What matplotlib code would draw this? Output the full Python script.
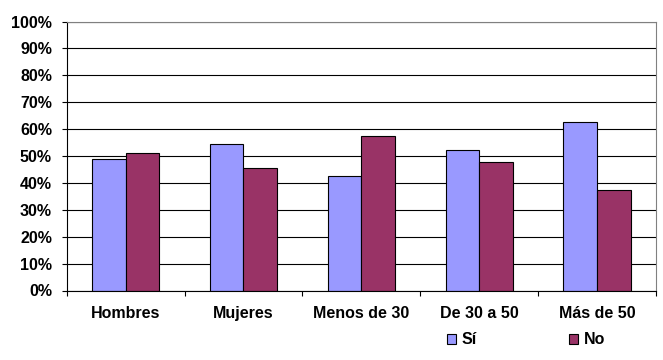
import matplotlib

matplotlib.use("Agg")
import matplotlib.pyplot as plt
import numpy as np

categories = ["Hombres", "Mujeres", "Menos de 30", "De 30 a 50", "Más de 50"]
si_vals = [48.7, 54.6, 42.7, 52.4, 62.5]
no_vals = [51.3, 45.4, 57.3, 47.6, 37.5]
series_names = ["Sí", "No"]
y_ticks = list(range(0, 101, 10))

plt.rcParams["font.family"] = ["Liberation Sans", "DejaVu Sans"]
plt.rcParams["font.weight"] = "bold"
plt.rcParams["font.size"] = 11.5

fig = plt.figure(figsize=(6.63, 3.6), dpi=100)
ax = fig.add_axes([66.7 / 663, 69.5 / 360, 589.3 / 663, 269 / 360])

x = np.arange(len(categories))
w = 1 / 3.5
ax.bar(x - w / 2, si_vals, w, color="#9999FF", edgecolor="black", lw=0.8,
       label=series_names[0], zorder=2)
ax.bar(x + w / 2, no_vals, w, color="#993366", edgecolor="black", lw=0.8,
       label=series_names[1], zorder=2)

ax.set_xlim(-0.5, len(categories) - 0.5)
ax.set_ylim(0, 100)
ax.set_yticks(y_ticks)
ax.set_yticklabels([f"{v}%" for v in y_ticks])
ax.yaxis.grid(True, color="black", lw=0.8)
ax.set_axisbelow(True)

ax.set_xticks(np.arange(-0.5, len(categories)), labels=[])
ax.set_xticks(x, labels=categories, minor=True)
ax.tick_params(axis="both", which="major", direction="out", length=3.6,
               width=0.8, color="black")
ax.tick_params(axis="y", pad=7)
ax.tick_params(axis="x", which="minor", length=0, pad=11)

for side in ("left", "bottom"):
    ax.spines[side].set_color("black")
    ax.spines[side].set_linewidth(0.8)
for side in ("top", "right"):
    ax.spines[side].set_color("#808080")
    ax.spines[side].set_linewidth(0.8)

fig.legend(loc="center left", bbox_to_anchor=(447 / 663, 1 - 340 / 360),
           ncol=2, frameon=False, borderpad=0, borderaxespad=0,
           handlelength=0.56, handleheight=0.56, handletextpad=0.35,
           columnspacing=5.8)

fig.savefig("out.png", dpi=100)
